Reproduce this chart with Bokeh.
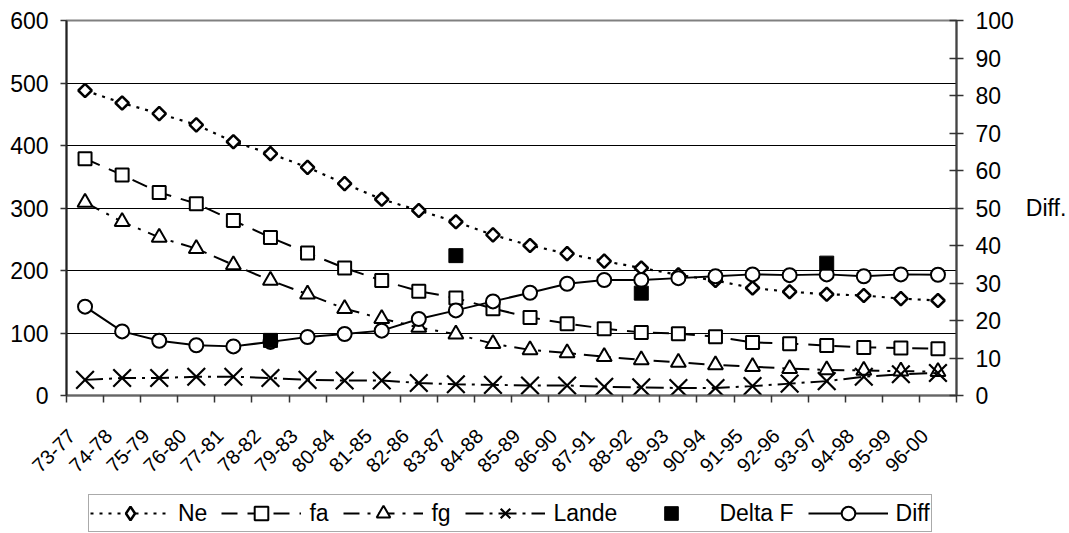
import math
from bokeh.plotting import figure
from bokeh.layouts import column
from bokeh.models import (Range1d, LinearAxis, FixedTicker, CustomJSTickFormatter,
                          Legend, LegendItem)
from bokeh.embed import file_html
from bokeh.resources import INLINE

# ---------------- data ----------------
cats = ["73-77", "74-78", "75-79", "76-80", "77-81", "78-82", "79-83", "80-84",
        "81-85", "82-86", "83-87", "84-88", "85-89", "86-90", "87-91", "88-92",
        "89-93", "90-94", "91-95", "92-96", "93-97", "94-98", "95-99", "96-00"]
ne = [488, 468, 451, 433, 406, 387, 365, 339, 314, 296, 278, 257,
      240, 227, 215, 204, 193, 184, 172, 166, 162, 160, 155, 152]
fa = [379, 353, 325, 307, 280, 253, 228, 204, 184, 167, 156, 139,
      125, 115, 107, 101, 99, 94, 85, 83, 80, 77, 76, 75]
fg = [309, 278, 253, 235, 209, 184, 162, 139, 123, 109, 98, 83,
      73, 68, 62, 57, 53, 49, 46, 43, 41, 40, 39, 38]
lande = [25, 28, 28, 30, 30, 28, 25, 24, 24, 20, 18, 17,
         16, 16, 14, 13, 12, 12, 15, 19, 23, 30, 34, 36]
# right axis (Diff.)
diff = [23.7, 17.1, 14.6, 13.4, 13.1, 14.3, 15.6, 16.4, 17.3, 20.4, 22.7, 25.1,
        27.4, 29.8, 30.8, 30.8, 31.3, 31.8, 32.3, 32.1, 32.3, 31.8, 32.3, 32.2]
deltaf_cats = ["78-82", "83-87", "88-92", "93-97"]
deltaf = [14.7, 37.3, 27.3, 35.3]

left_ticks = [0, 100, 200, 300, 400, 500, 600]
right_ticks = [0, 10, 20, 30, 40, 50, 60, 70, 80, 90, 100]
legend_labels = ["Ne", "fa", "fg", "Lande", "Delta F", "Diff"]

FONT = "Liberation Sans"
FS = "23px"

x = [i + 0.5 for i in range(len(cats))]
x_lab = [i + 0.14 for i in range(len(cats))]   # label anchor, slightly left of centre
x_df = [cats.index(c) + 0.5 for c in deltaf_cats]

# series styles (shared by chart and legend)
ST = {
    "Ne": dict(line=dict(line_width=2.2, line_dash="3 6"),
               mark=dict(marker="square", angle=math.pi / 4, size=9.5, fill_color="white", line_width=2.5)),
    "fa": dict(line=dict(line_width=2, line_dash="16 10"),
               mark=dict(marker="square", size=13, fill_color="white", line_width=2)),
    "fg": dict(line=dict(line_width=2, line_dash="16 8 3 8"),
               mark=dict(marker="triangle", size=15, fill_color="white", line_width=2)),
    "Lande": dict(line=dict(line_width=2, line_dash="18 6 3 6"),
                  mark=dict(marker="x", size=25, line_width=2.2)),
    "Delta F": dict(line=None,
                    mark=dict(marker="square", size=14, fill_color="black", line_width=1)),
    "Diff": dict(line=dict(line_width=2),
                 mark=dict(marker="circle", size=14, fill_color="white", line_width=2)),
}

# ---------------- main chart ----------------
p = figure(width=1069, height=490, x_range=Range1d(0, len(cats)), y_range=Range1d(0, 600),
           output_backend="svg", toolbar_location=None,
           min_border_left=66, min_border_right=110, min_border_top=20, min_border_bottom=95)
p.extra_y_ranges = {"diff": Range1d(0, 100)}
p.background_fill_color = "white"
p.border_fill_color = "white"
p.outline_line_color = "#808080"
p.outline_line_width = 2

xa = p.xaxis[0]
xa.ticker = FixedTicker(ticks=x_lab, minor_ticks=list(range(len(cats) + 1)))
xa.formatter = CustomJSTickFormatter(args=dict(labels=cats),
                                     code="const i = Math.floor(tick); return (i >= 0 && i < labels.length) ? labels[i] : '';")
xa.major_label_orientation = math.pi / 4
xa.major_tick_in = 0
xa.major_tick_out = 0
xa.minor_tick_in = 0
xa.minor_tick_out = 7
xa.minor_tick_line_color = "#333333"
xa.minor_tick_line_width = 1.5
xa.axis_line_color = "#666666"
xa.axis_line_width = 2
xa.major_label_text_font = FONT
xa.major_label_text_font_size = "20px"
xa.major_label_text_color = "black"
xa.major_label_standoff = 30

ya = p.yaxis[0]
ya.ticker = FixedTicker(ticks=left_ticks)
ya.major_tick_in = 0
ya.major_tick_out = 6
ya.minor_tick_in = 0
ya.minor_tick_out = 0
ya.axis_line_color = "#222222"
ya.axis_line_width = 2
ya.major_tick_line_color = "#333333"
ya.major_tick_line_width = 1.5
ya.major_label_text_font = FONT
ya.major_label_text_font_size = FS
ya.major_label_text_color = "black"
ya.major_label_standoff = 12

ra = LinearAxis(y_range_name="diff", ticker=FixedTicker(ticks=right_ticks), axis_label="Diff.")
ra.major_tick_in = 7
ra.major_tick_out = 7
ra.minor_tick_in = 0
ra.minor_tick_out = 0
ra.axis_line_color = "#444444"
ra.axis_line_width = 2
ra.major_tick_line_color = "#333333"
ra.major_tick_line_width = 1.5
ra.major_label_text_font = FONT
ra.major_label_text_font_size = FS
ra.major_label_text_color = "black"
ra.major_label_standoff = 12
ra.axis_label_orientation = "horizontal"
ra.axis_label_text_font = FONT
ra.axis_label_text_font_size = FS
ra.axis_label_text_font_style = "normal"
ra.axis_label_text_color = "black"
ra.axis_label_standoff = 9
p.add_layout(ra, "right")

p.xgrid.grid_line_color = None
p.ygrid.ticker = FixedTicker(ticks=left_ticks)
p.ygrid.grid_line_color = "black"
p.ygrid.grid_line_width = 1

p.line(x, ne, line_color="black", **ST["Ne"]["line"])
p.scatter(x, ne, line_color="black", **ST["Ne"]["mark"])
p.line(x, fa, line_color="black", **ST["fa"]["line"])
p.scatter(x, fa, line_color="black", **ST["fa"]["mark"])
p.line(x, fg, line_color="black", **ST["fg"]["line"])
p.scatter(x, fg, line_color="black", **ST["fg"]["mark"])
p.line(x, lande, line_color="black", **ST["Lande"]["line"])
p.scatter(x, lande, line_color="black", **ST["Lande"]["mark"])
p.line(x, diff, y_range_name="diff", line_color="black", **ST["Diff"]["line"])
p.scatter(x, diff, y_range_name="diff", line_color="black", **ST["Diff"]["mark"])
p.scatter(x_df, deltaf, y_range_name="diff", line_color="black", **ST["Delta F"]["mark"])

# ---------------- legend strip ----------------
q = figure(width=1069, height=43, x_range=Range1d(0, 1), y_range=Range1d(0, 1),
           x_axis_type=None, y_axis_type=None,
           output_backend="svg", toolbar_location=None,
           min_border_left=0, min_border_right=0, min_border_top=0, min_border_bottom=0)
q.grid.visible = False
q.outline_line_color = None
q.background_fill_color = "white"
q.border_fill_color = "white"

LEG_MARK = {"Ne": "diamond"}
items = []
for lab in legend_labels:
    rs = []
    if ST[lab]["line"] is not None:
        rs.append(q.line([-5, -4], [-5, -4], line_color="black", **ST[lab]["line"]))
    mk = dict(ST[lab]["mark"])
    if lab in LEG_MARK:
        mk["marker"] = LEG_MARK[lab]
        mk.pop("angle", None)
    rs.append(q.scatter([-5], [-5], line_color="black", **mk))
    items.append(LegendItem(label=lab, renderers=rs))

# the column aligns this strip's frame with the chart frame (left edge at 66 px)
legend = Legend(items=items, orientation="horizontal", location=(22, 1))
legend.glyph_width = 80
legend.glyph_height = 34
legend.label_standoff = 8
legend.spacing = 14
legend.padding = 1
legend.margin = 0
legend.label_text_font = FONT
legend.label_text_font_size = FS
legend.label_text_color = "black"
legend.border_line_color = "#555555"
legend.border_line_width = 1.5
legend.background_fill_color = "white"
legend.background_fill_alpha = 1
q.add_layout(legend, "center")

layout = column(p, q, spacing=0)
open("out.html", "w").write(file_html(layout, INLINE))
